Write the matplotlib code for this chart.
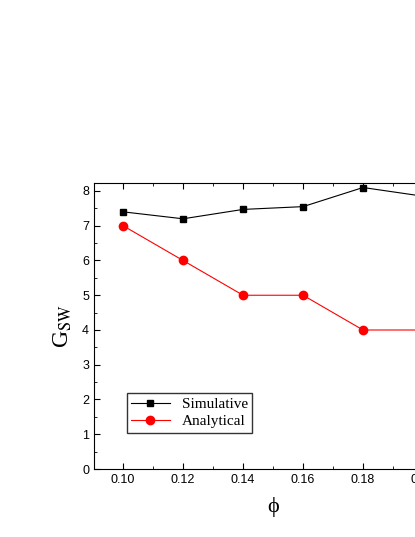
import matplotlib.pyplot as plt

plt.rcParams['font.family'] = ['Liberation Serif', 'DejaVu Serif']
plt.rcParams['mathtext.fontset'] = 'stix'

phi = [0.10, 0.12, 0.14, 0.16, 0.18, 0.20]
simulative = [7.4, 7.2, 7.47, 7.55, 8.1, 7.85]
analytical = [7.0, 6.0, 5.0, 5.0, 4.0, 4.0]

W, H = 415, 537
fig = plt.figure(figsize=(W / 100, H / 100), dpi=100)
# axes run past the right edge of the figure, as in the cropped original
ax = fig.add_axes([94 / W, (H - 469) / H, (453 - 94) / W, (469 - 183) / H])

ax.plot(phi, simulative, color='black', lw=0.8, marker='s', ms=5, label='Simulative')
ax.plot(phi, analytical, color='red', lw=0.8, marker='o', ms=6, label='Analytical')

ax.set_xlim(0.0903, 0.21)
ax.set_ylim(0, 8.23)
ax.set_xticks([0.10, 0.12, 0.14, 0.16, 0.18, 0.20])
ax.set_xticks([0.11, 0.13, 0.15, 0.17, 0.19], minor=True)
ax.set_yticks(range(9))
ax.set_yticks([i + 0.5 for i in range(8)], minor=True)
ax.tick_params(which='both', direction='in', top=True, right=True, labelsize=9,
               labelfontfamily='Liberation Sans')
ax.tick_params(which='major', length=4)
ax.tick_params(which='minor', length=2)
ax.xaxis.set_major_formatter(plt.FormatStrFormatter('%.2f'))

ax.set_xlabel('ϕ', fontsize=16, labelpad=8)
ax.set_ylabel('G$_{\\mathrm{SW}}$', fontsize=17, labelpad=6)

ax.legend(loc='lower left', bbox_to_anchor=(0.07, 0.1), frameon=True, fancybox=False,
          edgecolor='black', fontsize=11, handlelength=2.5, borderpad=0.3,
          labelspacing=0.2)

fig.savefig('out.png', dpi=100)
